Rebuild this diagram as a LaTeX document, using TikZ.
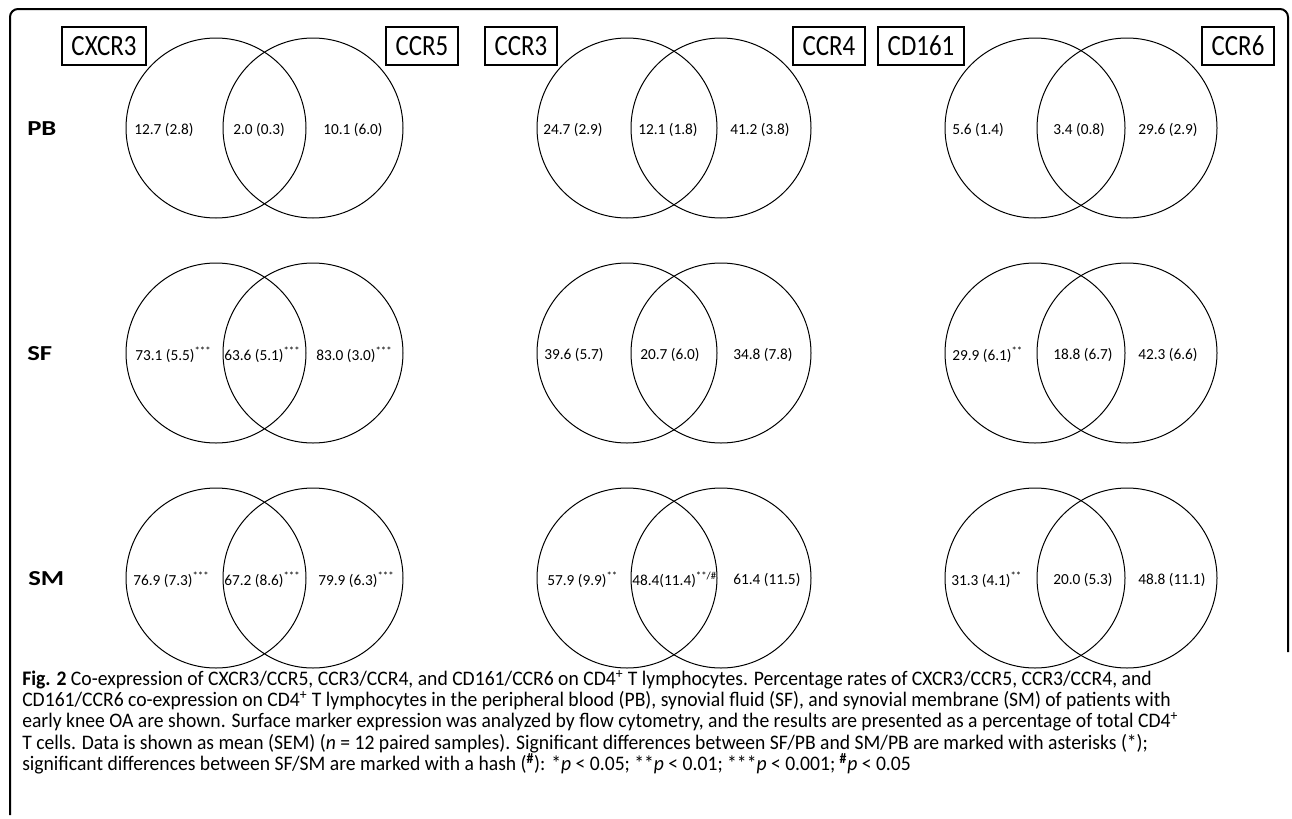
\documentclass[tikz,border=0pt]{standalone}
\usepackage{fontspec}
\setmainfont{Carlito}
\newfontfamily\markerfont[FakeStretch=0.85]{Carlito}
\newfontfamily\capfont[FakeStretch=0.95]{Carlito}
\newfontfamily\rowfont[FakeStretch=1.25]{Carlito}

\tikzset{
  venn/.style={draw, circle, minimum size=135pt, inner sep=0pt, line width=0.75pt},
  marker/.style={draw, line width=1.5pt, minimum height=28.5pt, inner xsep=7pt, font=\markerfont\fontsize{22}{22}\selectfont},
  val/.style={anchor=west, inner sep=0pt, font=\fontsize{11.5}{12}\selectfont},
  rowlab/.style={anchor=west, inner sep=0pt, font=\rowfont\bfseries\fontsize{16}{16}\selectfont},
  capline/.style={anchor=base west, inner sep=0pt, font=\capfont\fontsize{15.5}{16}\selectfont}
}

\begin{document}
\begin{tikzpicture}[x=0.75pt, y=-0.75pt]
  \useasboundingbox (0,0) rectangle (1292,818);
  % frame
  \draw[line width=1.5pt, rounded corners=6pt] (10,815) -- (10,9) -- (1288,9) -- (1288,652);

  % marker boxes
  \node[marker] (cxcr3) at (104,46) {CXCR3};
  \node[marker] (ccr5) at (422,46) {CCR5};
  \node[marker] (ccr3) at (521,46) {CCR3};
  \node[marker] (ccr4) at (829,46) {CCR4};
  \node[marker] (cd161) at (921,46) {CD161};
  \node[marker] (ccr6) at (1238,46) {CCR6};

  % row labels
  \node[rowlab] (pb) at (27,129) {PB};
  \node[rowlab] (sf) at (27,354) {SF};
  \node[rowlab] (sm) at (28,579) {SM};

  % circles, PB
  \node[venn] (pbAL) at (216,128) {};
  \node[venn] (pbAR) at (313,128) {};
  \node[venn] (pbBL) at (627,128) {};
  \node[venn] (pbBR) at (721,128) {};
  \node[venn] (pbCL) at (1035,128) {};
  \node[venn] (pbCR) at (1127,128) {};
  % circles, SF
  \node[venn] (sfAL) at (216,353) {};
  \node[venn] (sfAR) at (313,353) {};
  \node[venn] (sfBL) at (627,353) {};
  \node[venn] (sfBR) at (721,353) {};
  \node[venn] (sfCL) at (1035,353) {};
  \node[venn] (sfCR) at (1127,353) {};
  % circles, SM
  \node[venn] (smAL) at (216,578) {};
  \node[venn] (smAR) at (313,578) {};
  \node[venn] (smBL) at (627,578) {};
  \node[venn] (smBR) at (721,578) {};
  \node[venn] (smCL) at (1035,578) {};
  \node[venn] (smCR) at (1127,578) {};

  % values, PB
  \node[val] (pbA1) at (134,130) {12.7 (2.8)};
  \node[val] (pbA2) at (233,130) {2.0 (0.3)};
  \node[val] (pbA3) at (323,130) {10.1 (6.0)};
  \node[val] (pbB1) at (543,130) {24.7 (2.9)};
  \node[val] (pbB2) at (638,130) {12.1 (1.8)};
  \node[val] (pbB3) at (730,130) {41.2 (3.8)};
  \node[val] (pbC1) at (952,130) {5.6 (1.4)};
  \node[val] (pbC2) at (1053,130) {3.4 (0.8)};
  \node[val] (pbC3) at (1138,130) {29.6 (2.9)};
  % values, SF
  \node[val] (sfA1) at (135,355) {73.1 (5.5)\textsuperscript{***}};
  \node[val] (sfA2) at (224,355) {63.6 (5.1)\textsuperscript{***}};
  \node[val] (sfA3) at (316,355) {83.0 (3.0)\textsuperscript{***}};
  \node[val] (sfB1) at (544,355) {39.6 (5.7)};
  \node[val] (sfB2) at (640,355) {20.7 (6.0)};
  \node[val] (sfB3) at (733,355) {34.8 (7.8)};
  \node[val] (sfC1) at (952,355) {29.9 (6.1)\textsuperscript{**}};
  \node[val] (sfC2) at (1053,355) {18.8 (6.7)};
  \node[val] (sfC3) at (1138,355) {42.3 (6.6)};
  % values, SM
  \node[val] (smA1) at (133,580) {76.9 (7.3)\textsuperscript{***}};
  \node[val] (smA2) at (224,580) {67.2 (8.6)\textsuperscript{***}};
  \node[val] (smA3) at (318,580) {79.9 (6.3)\textsuperscript{***}};
  \node[val] (smB1) at (547,580) {57.9 (9.9)\textsuperscript{**}};
  \node[val] (smB2) at (632,580) {48.4(11.4)\textsuperscript{**/\#}};
  \node[val] (smB3) at (733,580) {61.4 (11.5)};
  \node[val] (smC1) at (951,580) {31.3 (4.1)\textsuperscript{**}};
  \node[val] (smC2) at (1053,580) {20.0 (5.3)};
  \node[val] (smC3) at (1138,580) {48.8 (11.1)};

  % caption
  \node[capline] (cap1) at (22,685) {{\bfseries Fig. 2} Co-expression of CXCR3/CCR5, CCR3/CCR4, and CD161/CCR6 on CD4\textsuperscript{+} T lymphocytes. Percentage rates of CXCR3/CCR5, CCR3/CCR4, and};
  \node[capline] (cap2) at (22,706) {CD161/CCR6 co-expression on CD4\textsuperscript{+} T lymphocytes in the peripheral blood (PB), synovial fluid (SF), and synovial membrane (SM) of patients with};
  \node[capline] (cap3) at (22,727) {early knee OA are shown. Surface marker expression was analyzed by flow cytometry, and the results are presented as a percentage of total CD4\textsuperscript{+}};
  \node[capline] (cap4) at (22,749) {T cells. Data is shown as mean (SEM) (\textit{n} = 12 paired samples). Significant differences between SF/PB and SM/PB are marked with asterisks (*);};
  \node[capline] (cap5) at (22,770) {significant differences between SF/SM are marked with a hash (\textsuperscript{\bfseries\#}): *\textit{p} < 0.05; **\textit{p} < 0.01; ***\textit{p} < 0.001; \textsuperscript{\bfseries\#}\textit{p} < 0.05};
\end{tikzpicture}
\end{document}
